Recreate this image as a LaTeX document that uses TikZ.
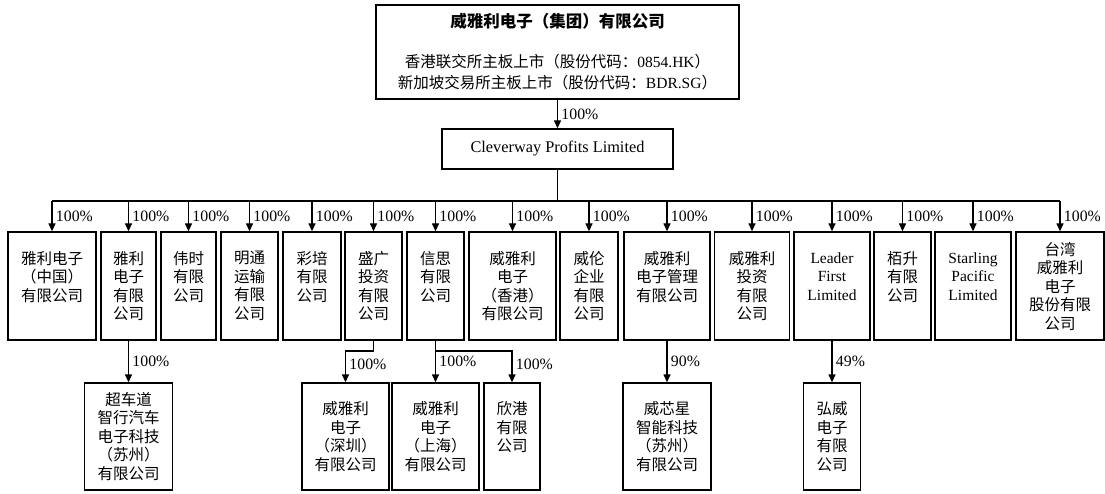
\documentclass[tikz,border=0pt]{standalone}
\usepackage{fontspec}
\setmainfont{Liberation Serif}
\newfontfamily\cjk{Noto Sans CJK SC}
\usetikzlibrary{arrows.meta}

\begin{document}
\begin{tikzpicture}[x=1pt,y=-1pt,line width=1.3pt,>={Triangle[length=8pt,width=7pt]},
    box/.style={draw,inner sep=0pt,align=center,minimum height=108pt,font=\cjk\fontsize{15.5}{18.5}\selectfont},
    ebox/.style={box,font=\fontsize{15.5}{18.7}\selectfont},
    pct/.style={right,font=\fontsize{15.8}{18}\selectfont}]
    \useasboundingbox (0,0) rectangle (1105,494);

    % group and holding company
	\node[draw,inner sep=0pt,align=center,minimum width=363pt,minimum height=94pt,font=\fontsize{15.5}{21}\selectfont] (grp) at (557.5,52)
	  {{\cjk\bfseries\fontsize{16.5}{20}\selectfont 威雅利电子（集团）有限公司}\\[19pt]
	   {\cjk 香港联交所主板上市（股份代码：}0854.HK{\cjk ）}\\
	   {\cjk 新加坡交易所主板上市（股份代码：}BDR.SG{\cjk ）}};
	\node[draw,inner sep=0pt,minimum width=231pt,minimum height=40pt,font=\fontsize{16.3}{18}\selectfont] (cpl) at (557.5,149) {Cleverway Profits Limited};

    % first level
	\node[box,minimum width=88pt] (c1) at (52,286) {雅利电子\\（中国）\\有限公司\\\phantom{公司}};
	\node[box,minimum width=55pt] (c2) at (128.5,286) {雅利\\电子\\有限\\公司};
	\node[box,minimum width=55pt] (c3) at (188.5,286) {伟时\\有限\\公司\\\phantom{公司}};
	\node[box,minimum width=57pt] (c4) at (249.5,286) {明通\\运输\\有限\\公司};
	\node[box,minimum width=58pt] (c5) at (312,286) {彩培\\有限\\公司\\\phantom{公司}};
	\node[box,minimum width=57pt] (c6) at (373.5,286) {盛广\\投资\\有限\\公司};
	\node[box,minimum width=57pt] (c7) at (435.5,286) {信思\\有限\\公司\\\phantom{公司}};
	\node[box,minimum width=87pt] (c8) at (512.5,286) {威雅利\\电子\\（香港）\\有限公司};
	\node[box,minimum width=58pt] (c9) at (589,286) {威伦\\企业\\有限\\公司};
	\node[box,minimum width=86pt] (c10) at (667,286) {威雅利\\电子管理\\有限公司\\\phantom{公司}};
	\node[box,minimum width=75pt] (c11) at (752,286) {威雅利\\投资\\有限\\公司};
	\node[ebox,minimum width=76pt] (c12) at (832,286) {Leader\\First\\Limited\\\phantom{Limited}};
	\node[box,minimum width=57pt] (c13) at (902.5,286) {栢升\\有限\\公司\\\phantom{公司}};
	\node[ebox,minimum width=76pt] (c14) at (973,286) {Starling\\Pacific\\Limited\\\phantom{Limited}};
	\node[box,minimum width=88pt] (c15) at (1060,286) {台湾\\威雅利\\电子\\股份有限\\公司};

    % second level
	\node[box,minimum width=88pt,minimum height=107pt] (d2) at (128.5,436.5) {超车道\\智行汽车\\电子科技\\（苏州）\\有限公司};
	\node[box,minimum width=87pt,minimum height=107pt] (d6) at (345.5,436.5) {威雅利\\电子\\（深圳）\\有限公司};
	\node[box,minimum width=87pt,minimum height=107pt] (d7a) at (435.5,436.5) {威雅利\\电子\\（上海）\\有限公司};
	\node[box,minimum width=56pt,minimum height=107pt] (d7b) at (512,436.5) {欣港\\有限\\公司\\\phantom{公司}};
	\node[box,minimum width=88pt,minimum height=107pt] (d10) at (667,436.5) {威芯星\\智能科技\\（苏州）\\有限公司};
	\node[box,minimum width=57pt,minimum height=107pt] (d12) at (832,436.5) {弘威\\电子\\有限\\公司};

    % bus
	\coordinate (bus) at (557.5,201);
	\coordinate (b1) at (52,201);
	\coordinate (b2) at (128.5,201);
	\coordinate (b3) at (188.5,201);
	\coordinate (b4) at (249.5,201);
	\coordinate (b5) at (312,201);
	\coordinate (b6) at (373.5,201);
	\coordinate (b7) at (435.5,201);
	\coordinate (b8) at (512.5,201);
	\coordinate (b9) at (589,201);
	\coordinate (b10) at (667,201);
	\coordinate (b11) at (752,201);
	\coordinate (b12) at (832,201);
	\coordinate (b13) at (902.5,201);
	\coordinate (b14) at (973,201);
	\coordinate (b15) at (1060,201);
	\coordinate (k6) at (373.5,351);
	\coordinate (k7) at (435.5,351);

  \draw (grp) edge[->] node[pct] {100\%} (cpl);
  \draw (cpl) -- (bus);
  \draw (b1) -- (b15);

  \draw (b1) edge[->] node[pct] {100\%} (c1);
  \draw (b2) edge[->] node[pct] {100\%} (c2);
  \draw (b3) edge[->] node[pct] {100\%} (c3);
  \draw (b4) edge[->] node[pct] {100\%} (c4);
  \draw (b5) edge[->] node[pct] {100\%} (c5);
  \draw (b6) edge[->] node[pct] {100\%} (c6);
  \draw (b7) edge[->] node[pct] {100\%} (c7);
  \draw (b8) edge[->] node[pct] {100\%} (c8);
  \draw (b9) edge[->] node[pct] {100\%} (c9);
  \draw (b10) edge[->] node[pct] {100\%} (c10);
  \draw (b11) edge[->] node[pct] {100\%} (c11);
  \draw (b12) edge[->] node[pct] {100\%} (c12);
  \draw (b13) edge[->] node[pct] {100\%} (c13);
  \draw (b14) edge[->] node[pct] {100\%} (c14);
  \draw (b15) edge[->] node[pct] {100\%} (c15);

  \draw (c2) edge[->] node[pct] {100\%} (d2);
  \draw (c6) -- (k6);
  \draw[->] (k6) -| node[pct,pos=0.72] {100\%} (d6);
  \draw (c7) edge[->] node[pct] {100\%} (d7a);
  \draw[->] (k7) -| node[pct,pos=0.72] {100\%} (d7b);
  \draw (c10) edge[->] node[pct] {90\%} (d10);
  \draw (c12) edge[->] node[pct] {49\%} (d12);
\end{tikzpicture}
\end{document}
